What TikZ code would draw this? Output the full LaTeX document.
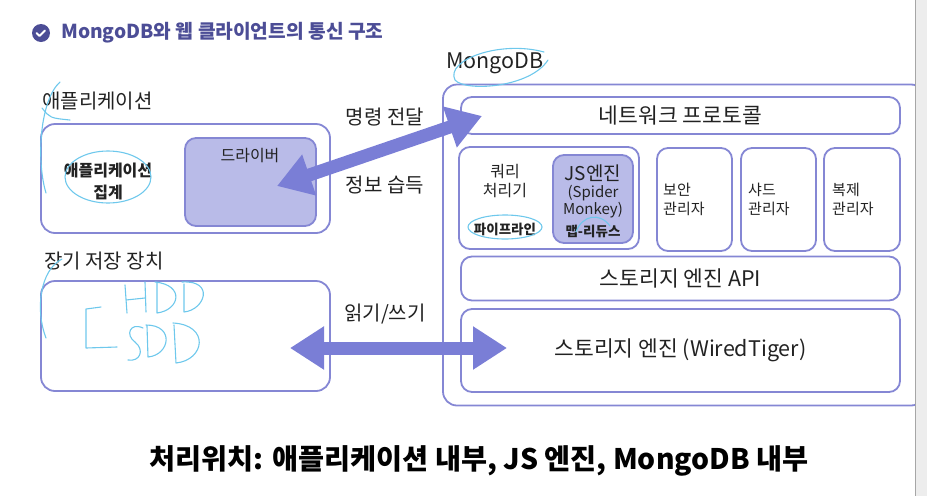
\documentclass[tikz,border=0pt]{standalone}
\usepackage{fontspec}
\setmainfont{Noto Sans CJK KR}
\usetikzlibrary{arrows.meta}
\definecolor{boxc}{HTML}{8587D4}
\definecolor{drvc}{HTML}{B9BBE8}
\definecolor{arrc}{HTML}{7A7ED6}
\definecolor{titlec}{HTML}{4C4D96}
\definecolor{scribc}{HTML}{6EC8EC}
\definecolor{txtc}{HTML}{222222}

\begin{document}
\begin{tikzpicture}[x=1pt,y=-1pt,
    box/.style={draw=boxc, line width=1.8pt, rounded corners=14pt, inner sep=0pt},
    subbox/.style={box, rounded corners=11pt},
    lbl/.style={text=txtc, inner sep=0pt, font=\fontsize{20}{24}\selectfont},
    inlbl/.style={text=txtc, inner sep=0pt, font=\fontsize{21.5}{24}\selectfont},
    small/.style={text=txtc, inner sep=0pt, font=\fontsize{15}{19}\selectfont, align=center},
    tiny/.style={text=txtc, inner sep=0pt, font=\fontsize{13.5}{16}\selectfont\bfseries},
    bigarrow/.style={draw=arrc, line width=13pt,
        arrows={Triangle[length=34pt,width=41pt]-Triangle[length=34pt,width=41pt]}},
    scrib/.style={draw=scribc, line width=1.1pt, line cap=round, line join=round}]
    \useasboundingbox (0,0) rectangle (927,496);

    \fill[titlec] (41,33) circle (9);
    \draw[white, line width=2pt, line cap=round, line join=round] (36.5,33) -- (39.5,36) -- (45,30.5);
    \node[anchor=west, inner sep=0pt, text=titlec, font=\fontsize{19.2}{23}\selectfont\bfseries] (title) at (61,33) {MongoDB와 웹 클라이언트의 통신 구조};

    \node[lbl, anchor=west] (applbl) at (42,101) {애플리케이션};
    \node[box, minimum width=289pt, minimum height=109pt] (app) at (185.5,178.5) {};
    \node[subbox, fill=drvc, minimum width=131pt, minimum height=88pt] (drv) at (250.5,182) {};
    \node[small, font=\fontsize{16}{19}\selectfont] (drvtxt) at (250,156) {드라이버};
    \node[small, font=\fontsize{16}{22}\selectfont\bfseries] (agg) at (108,181) {애플리케이션\\집계};

    \node[lbl, anchor=west] (disklbl) at (44,261) {장기 저장 장치};
    \node[box, minimum width=289pt, minimum height=110pt] (disk) at (185.5,336) {};

    \node[inlbl, anchor=west] (mdblbl) at (446,63) {MongoDB};
    \node[box, minimum width=482pt, minimum height=321pt] (mdb) at (684,245) {};
    \node[subbox, minimum width=439pt, minimum height=37pt, inlbl] (net) at (680.5,115.5) {네트워크 프로토콜};
    \node[subbox, minimum width=180pt, minimum height=102pt] (qry) at (549,198) {};
    \node[subbox, fill=drvc, minimum width=80pt, minimum height=88pt] (js) at (593,199) {};
    \node[subbox, minimum width=75pt, minimum height=103pt] (sec) at (694.5,199.5) {};
    \node[subbox, minimum width=75pt, minimum height=103pt] (shard) at (778.5,199.5) {};
    \node[subbox, minimum width=76pt, minimum height=103pt] (repl) at (862,199.5) {};
    \node[subbox, minimum width=439pt, minimum height=44pt, inlbl] (api) at (680.5,278.5) {스토리지 엔진 API};
    \node[subbox, minimum width=439pt, minimum height=83pt, inlbl] (wt) at (680.5,350.5) {스토리지 엔진 (WiredTiger)};

    \node[small, font=\fontsize{16}{19}\selectfont] (qrytxt) at (505,181) {쿼리\\처리기};
    \node[tiny] (pipe) at (505,229) {파이프라인};
    \node[small, font=\fontsize{19}{22}\selectfont] (jstxt) at (593,173) {JS엔진};
    \node[small, font=\fontsize{15}{17}\selectfont] (spider) at (593,202) {(Spider\\Monkey)};
    \node[tiny] (mapred) at (593,231) {맵-리듀스};
    \node[small, anchor=west, align=left] (sectxt) at (663,199) {보안\\관리자};
    \node[small, anchor=west, align=left] (shardtxt) at (748,199) {샤드\\관리자};
    \node[small, anchor=west, align=left] (repltxt) at (832,199) {복제\\관리자};

    \fill[black!7] (915,0) rectangle (927,496);
    \draw[black!35, line width=1pt] (915,0) -- (915,496);

    \coordinate (cmdL) at (277,186);
    \coordinate (cmdR) at (482,116);
    \coordinate (rwL) at (290,348);
    \coordinate (rwR) at (507,348);
    \draw[bigarrow] (cmdL) -- (cmdR);
    \draw[bigarrow] (rwL) -- (rwR);
    \node[lbl] (cmd) at (385,117) {명령 전달};
    \node[lbl] (info) at (385,185) {정보 습득};
    \node[lbl] (rw) at (385,314) {읽기/쓰기};

    \node[inner sep=0pt, text=black, font=\fontsize{28.3}{32}\selectfont\bfseries] (where) at (479,461) {처리위치: 애플리케이션 내부, JS 엔진, MongoDB 내부};

    \draw[scrib] (60,82) .. controls (40,100) and (36,160) .. (46,193);
    \draw[scrib] (42,108) .. controls (50,118) .. (70,120);
    \draw[scrib] (108,177) ellipse (43 and 26);
    \draw[scrib] (544,52) .. controls (500,40) and (445,60) .. (455,80) .. controls (465,92) and (530,88) .. (548,60);
    \draw[scrib] (505,227) ellipse (37 and 12);
    \draw[scrib] (576,232) .. controls (582,215) and (600,212) .. (610,226);
    \draw[scrib] (62,259) .. controls (40,270) and (35,310) .. (46,338);
    \draw[scrib] (101,307) -- (86,309) -- (86,348) -- (117,347);
    \draw[scrib] (125,285) -- (127,313) (145,282) -- (146,312) (126,300) -- (145,298);
    \draw[scrib] (157,282) -- (157,313) (155,282) .. controls (185,285) and (180,310) .. (157,313);
    \draw[scrib] (184,284) -- (184,312) (182,282) .. controls (215,280) and (205,310) .. (184,312);
    \draw[scrib] (143,328) .. controls (130,322) and (125,335) .. (135,342) .. controls (145,350) and (140,362) .. (128,360);
    \draw[scrib] (147,326) -- (148,357) (146,325) .. controls (175,325) and (170,355) .. (148,357);
    \draw[scrib] (174,325) -- (176,363) (173,323) .. controls (210,325) and (205,360) .. (176,363);
\end{tikzpicture}
\end{document}
